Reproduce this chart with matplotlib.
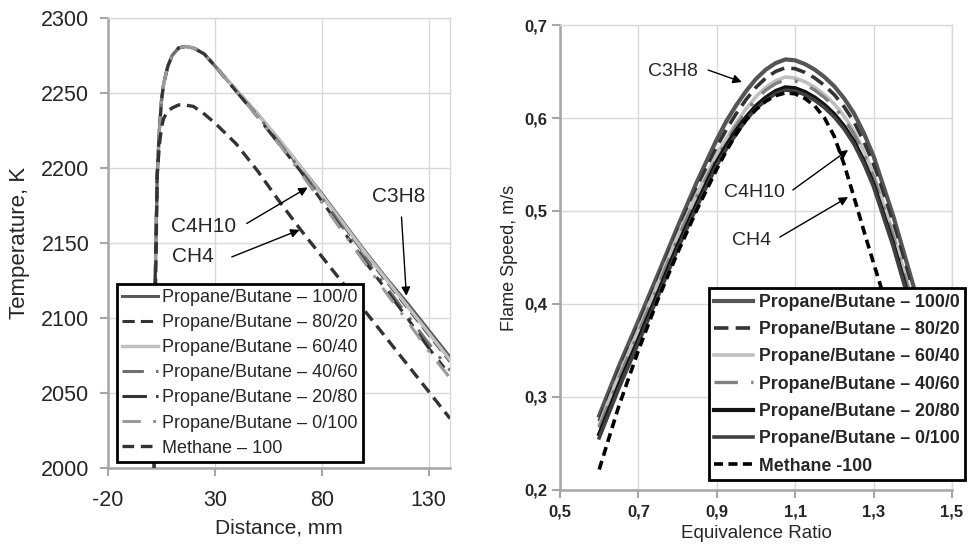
import matplotlib
matplotlib.use("Agg")
import matplotlib.pyplot as plt
from matplotlib.ticker import FuncFormatter

plt.rcParams['font.family'] = ['Liberation Sans', 'DejaVu Sans']
plt.rcParams['axes.unicode_minus'] = False

# ---------------- Left panel data: Temperature vs Distance ----------------
distance = [1, 2, 3, 4, 5, 6, 8, 10, 13, 16, 20, 25, 30, 40, 50, 60, 70, 80, 90, 100, 110, 120, 130, 140]
temp_pb_100_0 = [1900, 2120, 2195, 2225, 2245, 2256, 2268, 2275, 2280, 2281, 2280, 2276, 2268,
                 2252, 2236, 2219, 2201, 2183, 2164, 2145, 2127, 2110, 2092, 2074]
temp_pb_80_20 = [1900, 2120, 2195, 2225, 2245, 2256, 2268, 2275, 2280, 2281, 2280, 2276, 2268,
                 2252, 2236, 2218, 2200, 2182, 2162, 2143, 2125, 2107, 2089, 2071]
temp_pb_60_40 = [1900, 2120, 2195, 2225, 2245, 2256, 2268, 2275, 2280, 2281, 2280, 2276, 2268,
                 2252, 2236, 2219, 2201, 2182, 2163, 2144, 2126, 2108, 2090, 2072]
temp_pb_40_60 = [1900, 2120, 2195, 2225, 2245, 2256, 2268, 2275, 2280, 2281, 2280, 2276, 2268,
                 2251, 2235, 2217, 2199, 2180, 2160, 2140, 2121, 2102, 2083, 2065]
temp_pb_20_80 = [1900, 2120, 2195, 2225, 2245, 2256, 2268, 2275, 2280, 2281, 2280, 2276, 2268,
                 2251, 2234, 2216, 2198, 2178, 2158, 2138, 2119, 2100, 2080, 2062]
temp_pb_0_100 = [1900, 2120, 2195, 2225, 2245, 2256, 2268, 2275, 2280, 2281, 2280, 2276, 2268,
                 2251, 2234, 2216, 2197, 2177, 2157, 2137, 2117, 2098, 2078, 2060]
temp_methane = [1880, 2100, 2195, 2215, 2227, 2233, 2238, 2240, 2242, 2242, 2241, 2236, 2230,
                2216, 2198, 2178, 2159, 2141, 2123, 2105, 2087, 2069, 2051, 2033]

left_labels = ["Propane/Butane – 100/0", "Propane/Butane – 80/20", "Propane/Butane – 60/40",
               "Propane/Butane – 40/60", "Propane/Butane – 20/80", "Propane/Butane – 0/100",
               "Methane – 100"]
left_xticks = [-20, 30, 80, 130]
left_yticks = [2000, 2050, 2100, 2150, 2200, 2250, 2300]

# ---------------- Right panel data: Flame speed vs Equivalence ratio ----------------
phi = [0.6, 0.65, 0.7, 0.75, 0.8, 0.85, 0.9, 0.925, 0.95, 0.975, 1.0, 1.025, 1.05, 1.075,
       1.1, 1.125, 1.15, 1.175, 1.2, 1.225, 1.25, 1.275, 1.3, 1.35, 1.4, 1.45]
sl_pb_100_0 = [.280, .333, .382, .432, .483, .532, .577, .597, .614, .629, .642, .652, .659, .663,
               .662, .658, .652, .644, .634, .621, .605, .584, .559, .495, .422, .350]
sl_pb_80_20 = [.274, .327, .376, .426, .477, .525, .569, .588, .605, .620, .633, .643, .650, .654,
               .653, .649, .643, .635, .625, .612, .596, .575, .550, .486, .413, .341]
sl_pb_60_40 = [.270, .323, .372, .422, .473, .519, .561, .578, .595, .610, .623, .633, .640, .644,
               .643, .639, .633, .625, .615, .602, .586, .565, .540, .476, .403, .331]
sl_pb_40_60 = [.267, .320, .369, .419, .470, .516, .557, .575, .592, .607, .620, .630, .637, .641,
               .640, .636, .630, .622, .612, .599, .583, .562, .537, .473, .400, .328]
sl_pb_20_80 = [.260, .313, .362, .412, .463, .509, .553, .571, .587, .601, .613, .622, .629, .633,
               .632, .628, .622, .614, .604, .591, .575, .554, .529, .465, .392, .320]
sl_pb_0_100 = [.256, .309, .358, .408, .459, .505, .549, .567, .583, .598, .610, .619, .626, .630,
               .629, .625, .619, .611, .601, .588, .572, .551, .526, .462, .389, .317]
phi_methane = [0.6, 0.65, 0.7, 0.75, 0.8, 0.85, 0.9, 0.925, 0.95, 0.975, 1.0, 1.025, 1.05, 1.075,
               1.1, 1.125, 1.15, 1.175, 1.2, 1.225, 1.25, 1.275, 1.3, 1.35, 1.4]
sl_methane = [.222, .290, .350, .405, .455, .502, .545, .565, .583, .598, .609, .618, .624, .627,
              .626, .621, .613, .600, .580, .550, .515, .479, .444, .376, .308]

right_labels = ["Propane/Butane – 100/0", "Propane/Butane – 80/20", "Propane/Butane – 60/40",
                "Propane/Butane – 40/60", "Propane/Butane – 20/80", "Propane/Butane – 0/100",
                "Methane -100"]
right_xticks = [0.5, 0.7, 0.9, 1.1, 1.3, 1.5]
right_yticks = [0.2, 0.3, 0.4, 0.5, 0.6, 0.7]

# ---------------- Figure ----------------
fig = plt.figure(figsize=(9.69, 5.46), dpi=100)
axL = fig.add_axes([0.1115, 0.1429, 0.3529, 0.8242])
axR = fig.add_axes([0.5779, 0.1026, 0.4045, 0.8516])

GRID = '#d9d9d9'
SPINE = '#a6a6a6'
TXT = '#262626'


def style_axes(ax):
    ax.grid(True, color=GRID, lw=1.0, zorder=0)
    ax.set_axisbelow(True)
    for s in ['top', 'right']:
        ax.spines[s].set_color(GRID)
        ax.spines[s].set_linewidth(1.0)
    for s in ['left', 'bottom']:
        ax.spines[s].set_color(SPINE)
        ax.spines[s].set_linewidth(1.8)
    ax.tick_params(direction='out', length=5.5, width=1.5, color=SPINE, labelcolor=TXT)


# Left panel
left_series = [temp_pb_100_0, temp_pb_80_20, temp_pb_60_40, temp_pb_40_60,
               temp_pb_20_80, temp_pb_0_100]
left_styles = [
    dict(color='#595959', lw=2.2, ls='-'),
    dict(color='#333333', lw=2.2, ls=(0, (4, 2))),
    dict(color='#c0c0c0', lw=2.5, ls='-'),
    dict(color='#707070', lw=2.2, ls=(0, (7, 4, 1, 4))),
    dict(color='#333333', lw=2.2, ls=(0, (8, 3, 3, 3))),
    dict(color='#9a9a9a', lw=2.2, ls=(0, (6, 4, 1, 4))),
]
handlesL = []
for ys, st, lab in zip(left_series, left_styles, left_labels[:6]):
    h, = axL.plot(distance, ys, label=lab, zorder=3, **st)
    handlesL.append(h)
h, = axL.plot(distance, temp_methane, color='#333333', lw=2.4, ls=(0, (3.5, 2)),
              label=left_labels[6], zorder=3)
handlesL.append(h)

axL.set_xlim(-20, 140)
axL.set_ylim(2000, 2300)
axL.set_xticks(left_xticks)
axL.set_yticks(left_yticks)
style_axes(axL)
axL.tick_params(labelsize=15.5)
axL.tick_params(axis='y', pad=8)
axL.tick_params(axis='x', pad=10)
axL.set_xlabel("Distance, mm", fontsize=15, color=TXT, labelpad=6)
axL.set_ylabel("Temperature, K", fontsize=16, color=TXT, labelpad=8)

legL = axL.legend(handles=handlesL, loc='lower left', bbox_to_anchor=(0.026, 0.013),
                  fontsize=13, frameon=True, fancybox=False, framealpha=1,
                  edgecolor='black', handlelength=2.0, handletextpad=0.2,
                  labelspacing=0.45, borderpad=0.3, borderaxespad=0)
legL.get_frame().set_linewidth(2.0)
for t in legL.get_texts():
    t.set_color(TXT)
legL.set_zorder(5)

arrowkw = dict(arrowstyle='-|>', color='black', lw=1.0, mutation_scale=13, shrinkA=0, shrinkB=0)
axL.text(24.8, 2160.7, "C4H10", fontsize=15, ha='center', va='center', color=TXT, zorder=6)
axL.annotate("", xy=(73.4, 2187), xytext=(44.9, 2163), arrowprops=arrowkw, zorder=6)
axL.text(19.7, 2140.7, "CH4", fontsize=15, ha='center', va='center', color=TXT, zorder=6)
axL.annotate("", xy=(69.6, 2158.7), xytext=(37.9, 2140.7), arrowprops=arrowkw, zorder=6)
axL.text(115.9, 2180.7, "C3H8", fontsize=15, ha='center', va='center', color=TXT, zorder=6)
axL.annotate("", xy=(119.6, 2114.7), xytext=(117.3, 2167.3), arrowprops=arrowkw, zorder=6)

# Right panel
right_series = [sl_pb_100_0, sl_pb_80_20, sl_pb_60_40, sl_pb_40_60, sl_pb_20_80, sl_pb_0_100]
right_styles = [
    dict(color='#555555', lw=3.0, ls='-'),
    dict(color='#333333', lw=2.6, ls=(0, (4, 2))),
    dict(color='#c0c0c0', lw=2.6, ls='-'),
    dict(color='#808080', lw=2.4, ls=(0, (7, 4, 1, 4))),
    dict(color='#111111', lw=3.0, ls='-'),
    dict(color='#404040', lw=2.6, ls='-'),
]
handlesR = []
for ys, st, lab in zip(right_series, right_styles, right_labels[:6]):
    h, = axR.plot(phi, ys, label=lab, zorder=3, **st)
    handlesR.append(h)
h, = axR.plot(phi_methane, sl_methane, color='black', lw=2.6, ls=(0, (2.5, 1.5)),
              label=right_labels[6], zorder=3)
handlesR.append(h)

axR.set_xlim(0.5, 1.5)
axR.set_ylim(0.2, 0.7)
axR.set_xticks(right_xticks)
axR.set_yticks(right_yticks)
style_axes(axR)
comma = FuncFormatter(lambda v, p: f"{v:.1f}".replace('.', ','))
axR.xaxis.set_major_formatter(comma)
axR.yaxis.set_major_formatter(comma)
axR.tick_params(labelsize=12)
axR.tick_params(axis='x', pad=5)
for lab in axR.get_xticklabels() + axR.get_yticklabels():
    lab.set_fontweight('bold')
axR.set_xlabel("Equivalence Ratio", fontsize=13.5, color=TXT, labelpad=4)
axR.set_ylabel("Flame Speed, m/s", fontsize=13, color=TXT, labelpad=5)

legR = axR.legend(handles=handlesR, loc='lower left', bbox_to_anchor=(0.38, 0.0215),
                  prop=dict(size=12.8, weight='bold'), frameon=True, fancybox=False, framealpha=1,
                  edgecolor='black', handlelength=2.2, handletextpad=0.3,
                  labelspacing=0.58, borderpad=0.3, borderaxespad=0)
legR.get_frame().set_linewidth(2.0)
for t in legR.get_texts():
    t.set_color(TXT)
legR.set_zorder(5)

axR.text(0.788, 0.6495, "C3H8", fontsize=14, ha='center', va='center', color=TXT, zorder=6)
axR.annotate("", xy=(0.964, 0.6387), xytext=(0.878, 0.6516), arrowprops=arrowkw, zorder=6)
axR.text(0.997, 0.5204, "C4H10", fontsize=14, ha='center', va='center', color=TXT, zorder=6)
axR.annotate("", xy=(1.235, 0.5656), xytext=(1.094, 0.5226), arrowprops=arrowkw, zorder=6)
axR.text(0.990, 0.4688, "CH4", fontsize=14, ha='center', va='center', color=TXT, zorder=6)
axR.annotate("", xy=(1.235, 0.515), xytext=(1.061, 0.472), arrowprops=arrowkw, zorder=6)

fig.savefig("out.png", dpi=100)
